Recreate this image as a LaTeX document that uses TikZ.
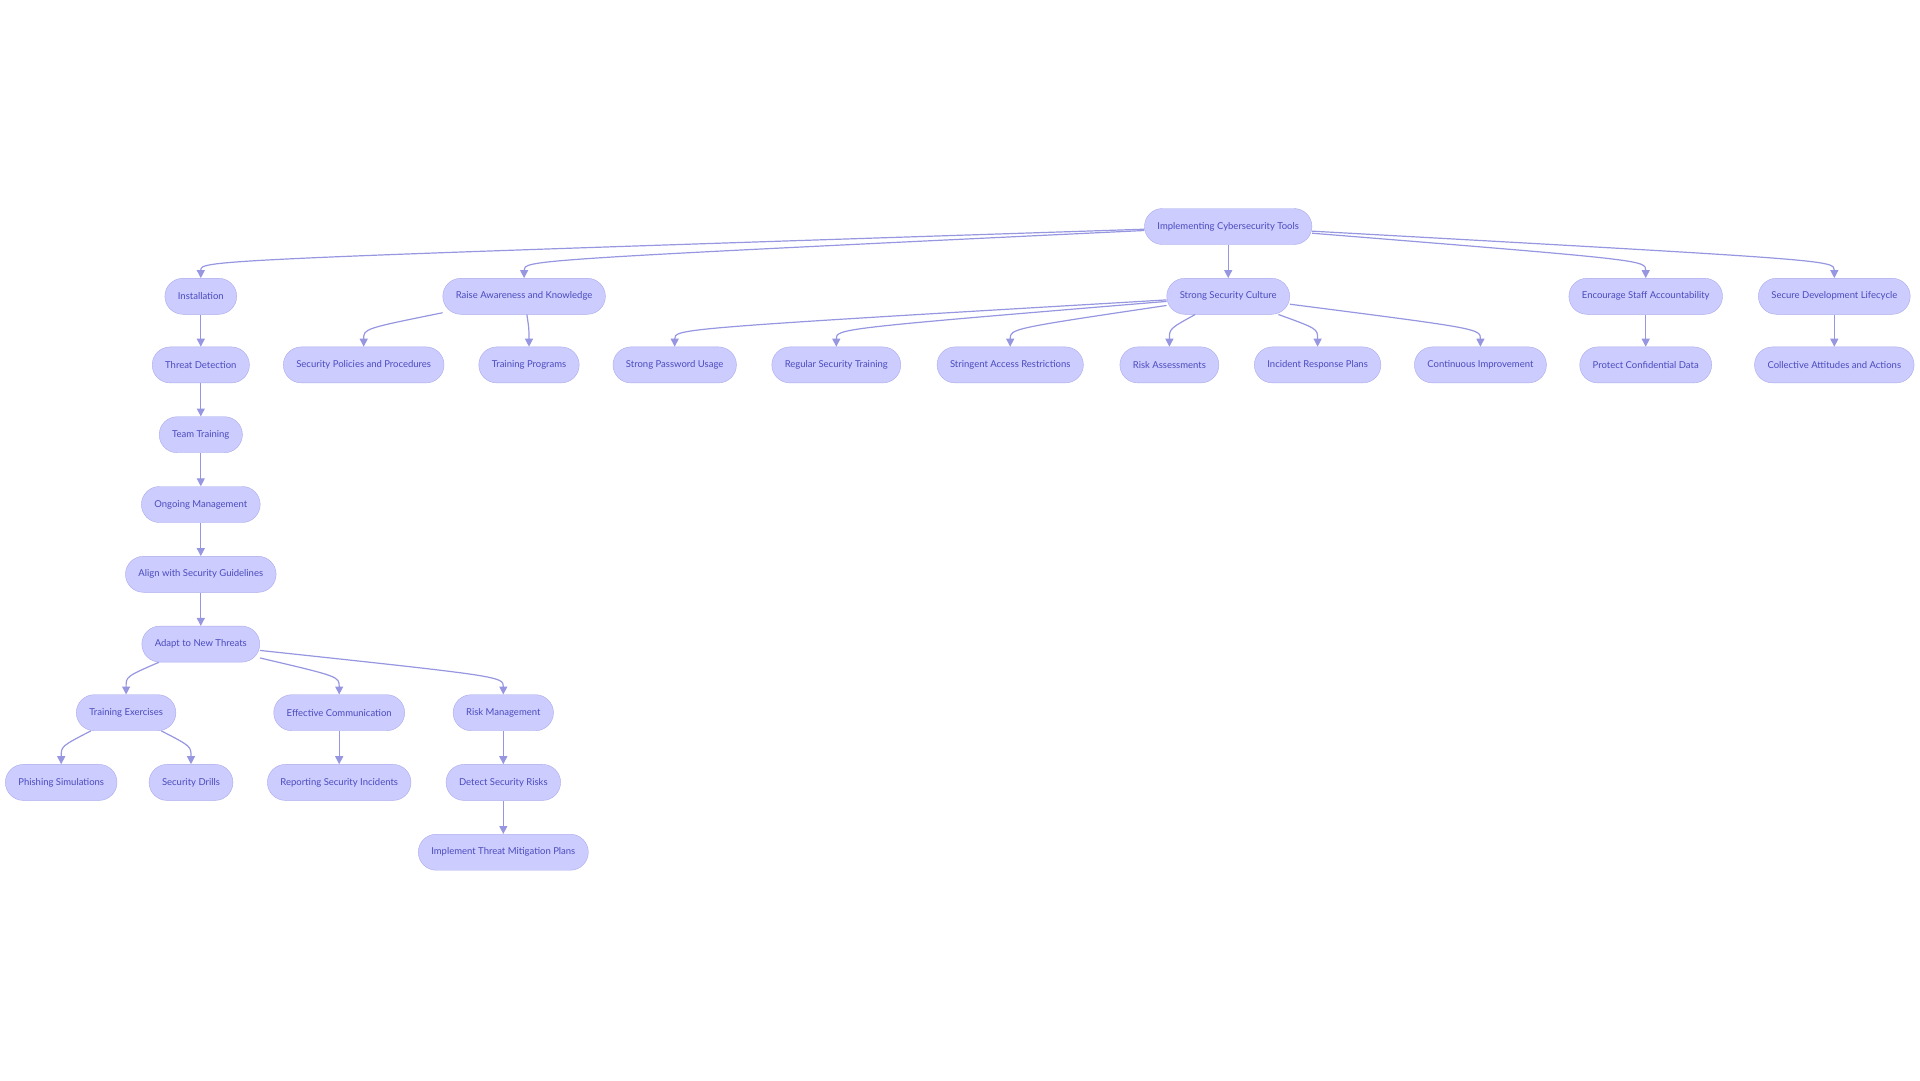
\documentclass[tikz,border=0pt]{standalone}
\usepackage{fontspec}
\setmainfont{Lato}
\usetikzlibrary{calc,arrows.meta}

\definecolor{boxfill}{RGB}{204,204,255}
\definecolor{boxline}{RGB}{170,170,235}
\definecolor{boxtext}{RGB}{75,75,190}
\definecolor{linkcol}{RGB}{150,150,225}

% parent to child, bending down onto the child's top
\newcommand{\link}[2]{\draw[edge] (#1) .. controls ($(#2.north)+(0,18)$) .. (#2.north);}

\begin{document}
\begin{tikzpicture}[x=1pt, y=1pt,
    box/.style={draw=boxline, fill=boxfill, text=boxtext, rounded corners=18pt,
        minimum height=36pt, inner xsep=13pt, font=\fontsize{9.5}{11}\selectfont},
    edge/.style={draw=linkcol, line width=1.2pt, -{Triangle[length=8pt,width=8pt]}}]
    \useasboundingbox (0,0) rectangle (1920,-1080);

    % Top
    \node[box] (tools) at (1228.2,-226.5) {Implementing Cybersecurity Tools};

    % First level
    \node[box] (install) at (200.8,-296.3) {Installation};
    \node[box] (aware) at (524.1,-296.3) {Raise Awareness and Knowledge};
    \node[box] (culture) at (1228.2,-296.3) {Strong Security Culture};
    \node[box] (account) at (1645.7,-296.3) {Encourage Staff Accountability};
    \node[box] (lifecycle) at (1834.3,-296.3) {Secure Development Lifecycle};

    % Second level
    \node[box] (detect) at (200.8,-364.9) {Threat Detection};
    \node[box] (policies) at (363.7,-364.9) {Security Policies and Procedures};
    \node[box] (programs) at (529.0,-364.9) {Training Programs};
    \node[box] (password) at (674.7,-364.9) {Strong Password Usage};
    \node[box] (regular) at (836.3,-364.9) {Regular Security Training};
    \node[box] (access) at (1010.2,-364.9) {Stringent Access Restrictions};
    \node[box] (assess) at (1169.4,-364.9) {Risk Assessments};
    \node[box] (incident) at (1317.6,-364.9) {Incident Response Plans};
    \node[box] (improve) at (1480.4,-364.9) {Continuous Improvement};
    \node[box] (protect) at (1645.7,-364.9) {Protect Confidential Data};
    \node[box] (attitudes) at (1834.3,-364.9) {Collective Attitudes and Actions};

    % Chain under Installation
    \node[box] (team) at (200.8,-434.7) {Team Training};
    \node[box] (ongoing) at (200.8,-504.5) {Ongoing Management};
    \node[box] (align) at (200.8,-574.3) {Align with Security Guidelines};
    \node[box] (adapt) at (200.8,-644.1) {Adapt to New Threats};

    \node[box] (exercises) at (126.1,-712.7) {Training Exercises};
    \node[box] (comm) at (339.2,-712.7) {Effective Communication};
    \node[box] (riskmgmt) at (503.3,-712.7) {Risk Management};

    \node[box] (phishing) at (61.2,-782.4) {Phishing Simulations};
    \node[box] (drills) at (191.0,-782.4) {Security Drills};
    \node[box] (reporting) at (339.2,-782.4) {Reporting Security Incidents};
    \node[box] (risks) at (503.3,-782.4) {Detect Security Risks};
    \node[box] (mitigate) at (503.3,-852.2) {Implement Threat Mitigation Plans};

    % Connections
    \foreach \c in {install,aware,culture,account,lifecycle} {\link{tools}{\c}}
    \link{aware}{policies}
    \link{aware}{programs}
    \foreach \c in {password,regular,access,assess,incident,improve} {\link{culture}{\c}}
    \link{account}{protect}
    \link{lifecycle}{attitudes}
    \link{install}{detect}
    \link{detect}{team}
    \link{team}{ongoing}
    \link{ongoing}{align}
    \link{align}{adapt}
    \foreach \c in {exercises,comm,riskmgmt} {\link{adapt}{\c}}
    \link{exercises}{phishing}
    \link{exercises}{drills}
    \link{comm}{reporting}
    \link{riskmgmt}{risks}
    \link{risks}{mitigate}
\end{tikzpicture}
\end{document}
